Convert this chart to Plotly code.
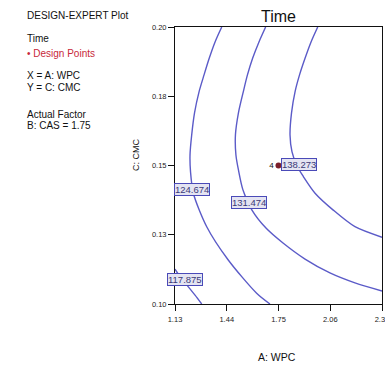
import plotly.graph_objects as go

# ---- data ----
levels = ["117.875", "124.674", "131.474", "138.273"]

c1_x = [1.130, 1.166, 1.210, 1.250, 1.290]
c1_y = [0.1126, 0.1094, 0.1062, 0.1032, 0.1000]

c2_x = [1.410, 1.370, 1.335, 1.304, 1.274, 1.247, 1.230, 1.220, 1.223, 1.240, 1.320, 1.449, 1.619, 1.699]
c2_y = [0.2000, 0.1946, 0.1887, 0.1827, 0.1766, 0.1690, 0.1610, 0.1538, 0.1477, 0.1400, 0.1279, 0.1159, 0.1039, 0.1000]

c3_x = [1.673, 1.633, 1.595, 1.564, 1.539, 1.510, 1.492, 1.495, 1.510, 1.537, 1.591, 1.675, 1.777, 1.909, 2.058, 2.208, 2.370]
c3_y = [0.2000, 0.1946, 0.1887, 0.1827, 0.1766, 0.1690, 0.1610, 0.1538, 0.1484, 0.1412, 0.1339, 0.1274, 0.1220, 0.1162, 0.1112, 0.1076, 0.1047]

c4_x = [1.985, 1.945, 1.909, 1.876, 1.849, 1.828, 1.819, 1.831, 1.861, 1.899, 1.969, 2.078, 2.208, 2.370]
c4_y = [0.2000, 0.1946, 0.1887, 0.1827, 0.1766, 0.1690, 0.1610, 0.1549, 0.1498, 0.1460, 0.1400, 0.1339, 0.1279, 0.1241]

label_x = [1.190, 1.232, 1.573, 1.873]
label_y = [0.1087, 0.1415, 0.1365, 0.1502]

dp_x = [1.75]
dp_y = [0.15]
dp_count = ["4"]

x_tickvals = [1.13, 1.44, 1.75, 2.06, 2.37]
x_ticktext = ["1.13", "1.44", "1.75", "2.06", "2.37"]
y_tickvals = [0.10, 0.125, 0.15, 0.175, 0.20]
y_ticktext = ["0.10", "0.13", "0.15", "0.18", "0.20"]

info_lines = ["DESIGN-EXPERT Plot", "Time", "\u2022 Design Points", "X = A: WPC",
              "Y = C: CMC", "Actual Factor", "B: CAS = 1.75"]

# ---- figure ----
FONT = "Liberation Sans, Arial, sans-serif"
LINE = "#5b5bc8"

fig = go.Figure()
for cx, cy in [(c1_x, c1_y), (c2_x, c2_y), (c3_x, c3_y), (c4_x, c4_y)]:
    fig.add_trace(go.Scatter(x=cx, y=cy, mode="lines",
                             line=dict(color=LINE, width=1.4, shape="spline", smoothing=0.8),
                             hoverinfo="skip", showlegend=False, cliponaxis=True))

fig.add_trace(go.Scatter(x=dp_x, y=dp_y, mode="markers+text", text=dp_count,
                         textposition="middle left",
                         textfont=dict(family=FONT, size=8, color="#111111"),
                         marker=dict(color="#7a1f2b", size=6),
                         showlegend=False, cliponaxis=False))

annotations = []
for lx, ly, lt in zip(label_x, label_y, levels):
    annotations.append(dict(x=lx, y=ly, xref="x", yref="y", text=lt, showarrow=False,
                            font=dict(family=FONT, size=9.5, color="#3a3a78"),
                            bgcolor="#e4e4f2", bordercolor="#4a4ab8", borderwidth=1,
                            borderpad=0))

# title
annotations.append(dict(x=0.5, y=(304 - 17) / 277, xref="paper", yref="paper", text="Time",
                        showarrow=False, font=dict(family=FONT, size=16, color="#111111"),
                        xanchor="center", yanchor="middle"))
# axis titles
annotations.append(dict(x=(277 - 175) / 207, y=(304 - 357) / 277, xref="paper", yref="paper",
                        text="A: WPC", showarrow=False,
                        font=dict(family=FONT, size=10.5, color="#111111"),
                        xanchor="center", yanchor="middle"))
annotations.append(dict(x=(136 - 175) / 207, y=(304 - 155) / 277, xref="paper", yref="paper",
                        text="C: CMC", showarrow=False, textangle=-90,
                        font=dict(family=FONT, size=9, color="#111111"),
                        xanchor="center", yanchor="middle"))

# left info block
info_y = [15, 39, 53, 76, 87, 114, 126]
for i, (t, py) in enumerate(zip(info_lines, info_y)):
    color = "#c8283a" if i == 2 else "#111111"
    annotations.append(dict(x=(25 - 175) / 207, y=(304 - py) / 277, xref="paper", yref="paper",
                            text=t, showarrow=False, xanchor="left", yanchor="middle",
                            font=dict(family=FONT, size=10, color=color)))

fig.update_layout(
    width=385, height=365,
    margin=dict(l=175, r=3, t=27, b=61, autoexpand=False),
    paper_bgcolor="white", plot_bgcolor="white",
    annotations=annotations,
    font=dict(family=FONT, size=7.5, color="#222222"),
)
fig.update_xaxes(range=[1.13, 2.37], tickvals=x_tickvals, ticktext=x_ticktext,
                 automargin=False,
                 showgrid=False, zeroline=False, showline=True, linecolor="#111111",
                 linewidth=1, mirror=True, ticks="outside", ticklen=6, tickcolor="#111111",
                 ticklabeloverflow="allow", ticklabelstandoff=2,
                 tickfont=dict(family=FONT, size=7.5, color="#222222"))
fig.update_yaxes(range=[0.10, 0.20], tickvals=y_tickvals, ticktext=y_ticktext,
                 automargin=False,
                 showgrid=False, zeroline=False, showline=True, linecolor="#111111",
                 linewidth=1, mirror=True, ticks="outside", ticklen=6, tickcolor="#111111",
                 tickfont=dict(family=FONT, size=7.5, color="#222222"))

fig.write_html("out.html")
